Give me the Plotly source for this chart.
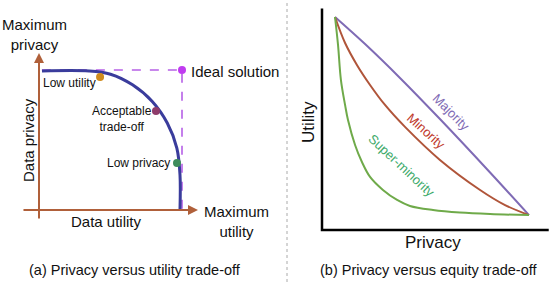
import plotly.graph_objects as go

# ---- panel (a): privacy vs utility frontier (x = utility, y = privacy) ----
frontier_u = [0.021, 0.35, 0.50, 0.654, 0.792, 0.897, 0.964, 0.986, 0.986]
frontier_p = [0.993, 0.993, 0.97, 0.894, 0.775, 0.621, 0.442, 0.25, 0.007]

ideal_u = [0.02, 1.0, 1.0]
ideal_p = [1.0, 1.0, 0.0]

point_names = ["Low utility", "Acceptable trade-off", "Low privacy", "Ideal solution"]
point_u = [0.427, 0.818, 0.965, 1.0]
point_p = [0.95, 0.707, 0.336, 1.0]
point_colors = ["#d08b1c", "#8e3b6a", "#3e8c5c", "#c03cf0"]

# ---- panel (b): utility vs privacy for groups ----
majority_x = [0.0625, 0.207, 0.375, 0.567, 0.808, 0.995]
majority_y = [1.0, 0.873, 0.714, 0.521, 0.270, 0.070]

minority_x = [0.0625, 0.111, 0.168, 0.231, 0.303, 0.399, 0.567, 0.760, 0.880, 0.995]
minority_y = [1.0, 0.878, 0.775, 0.681, 0.587, 0.484, 0.329, 0.188, 0.117, 0.070]

super_x = [0.0625, 0.077, 0.091, 0.111, 0.125, 0.159, 0.192, 0.231, 0.293, 0.361,
           0.423, 0.534, 0.663, 0.808, 0.995]
super_y = [1.0, 0.869, 0.704, 0.587, 0.516, 0.399, 0.319, 0.249, 0.188, 0.141,
           0.113, 0.094, 0.082, 0.075, 0.070]

FONT = "Liberation Sans, Arial, sans-serif"
BROWN = "#b0603a"
split = 287 / 550

fig = go.Figure()

# panel a traces
fig.add_trace(go.Scatter(x=ideal_u, y=ideal_p, mode="lines",
                         line=dict(color="#b660e6", width=1.6, dash="dash"),
                         xaxis="x", yaxis="y"))
fig.add_trace(go.Scatter(x=frontier_u, y=frontier_p, mode="lines", line_shape="spline",
                         line=dict(color="#3a3c9c", width=3), xaxis="x", yaxis="y"))
fig.add_trace(go.Scatter(x=point_u, y=point_p, mode="markers",
                         marker=dict(color=point_colors, size=8), xaxis="x", yaxis="y"))

# panel b traces
fig.add_trace(go.Scatter(x=[0, 0, 1.09], y=[1.04, 0, 0], mode="lines",
                         line=dict(color="black", width=2.5), xaxis="x2", yaxis="y2"))
fig.add_trace(go.Scatter(x=majority_x, y=majority_y, mode="lines", line_shape="spline",
                         line=dict(color="#7f6bb5", width=2), xaxis="x2", yaxis="y2"))
fig.add_trace(go.Scatter(x=minority_x, y=minority_y, mode="lines", line_shape="spline",
                         line=dict(color="#b0553a", width=2), xaxis="x2", yaxis="y2"))
fig.add_trace(go.Scatter(x=super_x, y=super_y, mode="lines", line_shape="spline",
                         line=dict(color="#6faa4a", width=2), xaxis="x2", yaxis="y2"))

ann = []
# axis arrows for panel a
ann.append(dict(x=0, y=1.121, ax=0, ay=-0.071, xref="x", yref="y", axref="x", ayref="y",
                showarrow=True, arrowhead=2, arrowsize=1, arrowwidth=2, arrowcolor=BROWN, text=""))
ann.append(dict(x=1.112, y=0, ax=-0.119, ay=0, xref="x", yref="y", axref="x", ayref="y",
                showarrow=True, arrowhead=2, arrowsize=1, arrowwidth=2, arrowcolor=BROWN, text=""))


def label(text, x, y, xref="x", yref="y", size=15, color="#111", xanchor="center", angle=0):
    ann.append(dict(text=text, x=x, y=y, xref=xref, yref=yref, showarrow=False,
                    xanchor=xanchor, yanchor="middle", textangle=angle,
                    font=dict(family=FONT, size=size, color=color)))


label("Maximum<br>privacy", -0.035, 1.257)
label("Ideal solution", 1.05, 0.986, xanchor="left")
label("Low utility", 0.41, 0.907, size=12, xanchor="right")
label("Acceptable<br>trade-off", 0.58, 0.65, size=12)
label("Low privacy", 0.93, 0.336, size=12, xanchor="right")
label("Data privacy", -0.077, 0.5, angle=-90)
label("Data utility", 0.469, -0.079)
label("Maximum<br>utility", 1.378, -0.079)

label("Utility", -0.067, 0.507, xref="x2", yref="y2", size=17, angle=-90)
label("Privacy", 0.534, -0.061, xref="x2", yref="y2", size=17)
label("Majority", 0.622, 0.551, xref="x2", yref="y2", size=13, color="#7f6bb5", angle=45)
label("Minority", 0.502, 0.462, xref="x2", yref="y2", size=13, color="#c0392b", angle=42)
label("Super-minority", 0.382, 0.302, xref="x2", yref="y2", size=13, color="#3daa6a", angle=43)

label("(a) Privacy versus utility trade-off", 135 / 550, 1 - 270 / 282,
      xref="paper", yref="paper", size=14.5)
label("(b) Privacy versus equity trade-off", 428 / 550, 1 - 270 / 282,
      xref="paper", yref="paper", size=14.5)

hidden = dict(visible=False, fixedrange=True)
fig.update_layout(
    width=550, height=282,
    margin=dict(l=0, r=0, t=0, b=0),
    paper_bgcolor="white", plot_bgcolor="white",
    showlegend=False,
    xaxis=dict(domain=[0, split], range=[-39 / 143, (287 - 39) / 143], **hidden),
    yaxis=dict(domain=[0, 1], range=[-72 / 140, 210 / 140], **hidden),
    xaxis2=dict(domain=[split, 1], range=[-35 / 208, 228 / 208], anchor="y2", **hidden),
    yaxis2=dict(domain=[0, 1], range=[-52 / 213, 230 / 213], anchor="x2", **hidden),
    annotations=ann,
    shapes=[dict(type="line", xref="paper", yref="paper", x0=split, x1=split, y0=0, y1=1,
                 line=dict(color="#aaaaaa", width=1, dash="dot"))],
)

# drop the browser's default body margin so the figure sits at the page origin
fig.write_html("out.html", config={"displayModeBar": False},
               post_script="document.body.style.margin='0';")
